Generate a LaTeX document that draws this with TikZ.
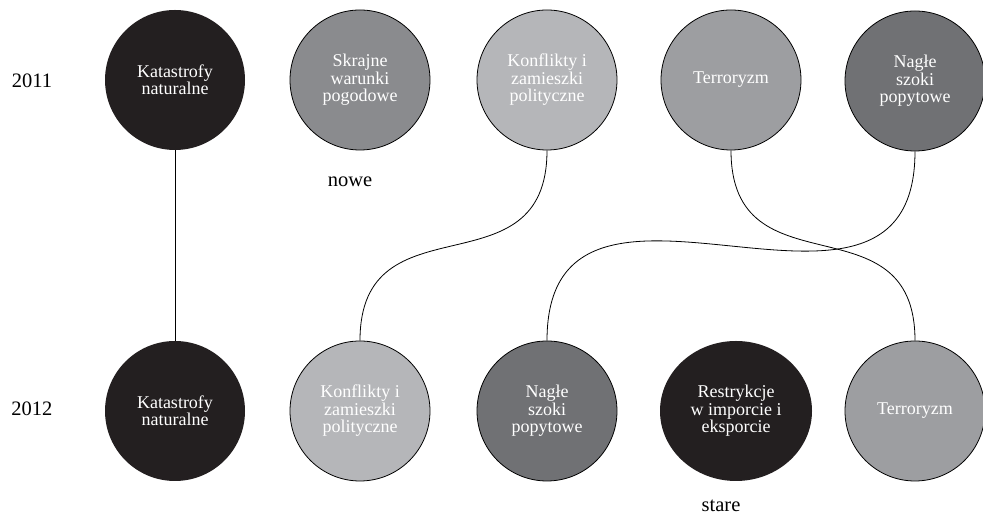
\documentclass[tikz,border=0pt]{standalone}
\usepackage{fontspec}
\setmainfont{Liberation Serif}
\usetikzlibrary{shapes.geometric}
\definecolor{cblack}{HTML}{231F20}
\definecolor{cgrey}{HTML}{8A8B8E}
\definecolor{clight}{HTML}{B5B6B9}
\definecolor{cmid}{HTML}{9D9EA1}
\definecolor{cdark}{HTML}{707174}
\tikzset{
  bub/.style={circle, minimum size=140pt, inner sep=0pt, text=white, align=center,
    font=\fontsize{18}{17.5}\selectfont, draw=black, line width=0.8pt},
  bubblack/.style={bub, fill=cblack, draw=none},
  lab/.style={font=\fontsize{20.5}{22}\selectfont, text=black, inner sep=0pt},
  conn/.style={line width=0.8pt, black},
}
\begin{document}
\begin{tikzpicture}[x=1pt, y=1pt]
\useasboundingbox (0,0) rectangle (983,518);
% top row (2011)
\node[bubblack] (t1) at (175,438) {Katastrofy\\naturalne};
\node[bub, fill=cgrey] (t2) at (360,438) {Skrajne\\warunki\\pogodowe};
\node[bub, fill=clight] (t3) at (547,438) {Konflikty i\\zamieszki\\polityczne};
\node[bub, fill=cmid] (t4) at (731,438) {Terroryzm};
\node[bub, fill=cdark] (t5) at (915,437) {Nagłe\\szoki\\popytowe};
% bottom row (2012)
\node[bubblack] (b1) at (175,107) {Katastrofy\\naturalne};
\node[bub, fill=clight] (b2) at (360,107) {Konflikty i\\zamieszki\\polityczne};
\node[bub, fill=cdark] (b3) at (547,107) {Nagłe\\szoki\\popytowe};
\node[bubblack, ellipse, minimum width=152pt, minimum height=140pt] (b4) at (736,107) {Restrykcje\\w imporcie i\\eksporcie};
\node[bub, fill=cmid] (b5) at (915,107) {Terroryzm};
% labels
\node[lab] (y1) at (32,437) {2011};
\node[lab] (y2) at (32,109) {2012};
\node[lab] (nowe) at (350,336) {nowe};
\node[lab] (stare) at (721,12) {stare};
% connectors
\draw[conn] (t1.south) -- (b1.north);
\draw[conn] (t3.south) to[out=-90, in=90, looseness=1.4] (b2.north);
\draw[conn] (t4.south) to[out=-90, in=90, looseness=1.4] (b5.north);
\draw[conn] (t5.south) to[out=-90, in=90, looseness=1.4] (b3.north);
\end{tikzpicture}
\end{document}
